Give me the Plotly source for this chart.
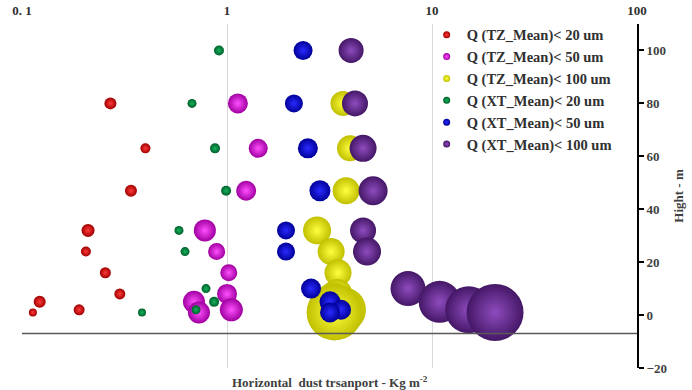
import plotly.graph_objects as go

# ---------------- data ----------------
series_names = [
    "Q (TZ_Mean)< 20 um",
    "Q (TZ_Mean)< 50 um",
    "Q (TZ_Mean)< 100 um",
    "Q (XT_Mean)< 20 um",
    "Q (XT_Mean)< 50 um",
    "Q (XT_Mean)< 100 um",
]

tz_height = [80, 63, 47, 32, 24, 16, 8, 5, 2, 1]
xt_height = [100, 80, 63, 47, 32, 24, 10, 5, 2, 1]

tz20_q = [0.27, 0.40, 0.34, 0.21, 0.205, 0.255, 0.30, 0.122, 0.19, 0.113]
tz50_q = [1.13, 1.42, 1.24, 0.78, 0.89, 1.02, 1.00, 0.69, 1.05, 0.73]
tz100_q = [3.68, 3.98, 3.81, 2.75, 3.22, 3.48, 3.45, 3.30, 3.70, 3.35]
xt20_q = [0.914, 0.675, 0.874, 0.99, 0.583, 0.624, 0.79, 0.865, 0.706, 0.385]
xt50_q = [2.35, 2.12, 2.48, 2.84, 1.94, 1.94, 2.57, 3.18, 3.60, 3.18]
xt100_q = [4.03, 4.21, 4.61, 5.16, 4.61, 4.82, 7.64, 10.9, 15.1, 20.3]

# bubble magnitudes (drawn diameter, px)
tz20_bubble = [12, 10, 12, 13, 10, 11, 11, 12, 11, 8]
tz50_bubble = [20, 19, 20, 22, 17, 17, 20, 22, 23, 22]
tz100_bubble = [25, 26, 27, 28, 27, 27, 30, 38, 45, 56]
xt20_bubble = [10, 9, 10, 10, 9, 9, 9, 10, 9, 8]
xt50_bubble = [19, 18, 20, 21, 18, 18, 20, 21, 20, 20]
xt100_bubble = [25, 26, 27, 29, 26, 28, 35, 42, 47, 57]

x_tickvals = [0.1, 1, 10, 100]
x_ticktext = ["0. 1", "1", "10", "100"]
y_tickvals = [-20, 0, 20, 40, 60, 80, 100]

# ---------------- styling ----------------
edge_colors = ["#A00000", "#A000A0", "#C0C000", "#005E2A", "#000098", "#441766"]
center_colors = ["#FF3A3A", "#FF50FF", "#FFFF40", "#14B45C", "#2A2AFF", "#8E4CBE"]

series = [
    (tz20_q, tz_height, tz20_bubble),
    (tz50_q, tz_height, tz50_bubble),
    (tz100_q, tz_height, tz100_bubble),
    (xt20_q, xt_height, xt20_bubble),
    (xt50_q, xt_height, xt50_bubble),
    (xt100_q, xt_height, xt100_bubble),
]

FONT = "Liberation Serif, Times New Roman, serif"
TXT = "#404040"

fig = go.Figure()
for i, (xs, ys, ss) in enumerate(series):
    fig.add_trace(go.Scatter(
        x=xs, y=ys, mode="markers", showlegend=False,
        marker=dict(size=ss, color=edge_colors[i], line=dict(width=0),
                    gradient=dict(type="radial", color=center_colors[i]),
                    opacity=1),
        hoverinfo="x+y", name=series_names[i],
    ))
for i, nm in enumerate(series_names):
    fig.add_trace(go.Scatter(
        x=[None], y=[None], mode="markers", name=nm,
        marker=dict(size=7, color=edge_colors[i], line=dict(width=0),
                    gradient=dict(type="radial", color=center_colors[i])),
    ))

fig.add_shape(type="line", xref="paper", yref="y", x0=0, x1=1, y0=-7, y1=-7,
              line=dict(color="#595959", width=1.5))

fig.add_annotation(
    text="<b>Horizontal  dust trsanport - Kg m<sup>-2</sup></b>",
    xref="paper", yref="paper", x=0.5, y=0, yshift=-4, yanchor="top",
    showarrow=False, font=dict(family=FONT, size=13, color=TXT),
)

fig.update_layout(
    width=692, height=390,
    margin=dict(l=22, r=55, t=24, b=22),
    paper_bgcolor="white", plot_bgcolor="white",
    font=dict(family=FONT, size=13, color=TXT),
    xaxis=dict(
        type="log", range=[-1, 2], side="top", automargin=False,
        tickvals=x_tickvals, ticktext=x_ticktext, ticks="",
        ticklabelstandoff=5,
        showgrid=True, gridcolor="#D9D9D9", gridwidth=1,
        showline=False, zeroline=False,
        tickfont=dict(family=FONT, size=13, color="#303030", weight="bold"),
    ),
    yaxis=dict(
        range=[-20, 110], side="right", tickvals=y_tickvals, automargin=False,
        ticks="outside", ticklen=5, tickwidth=1.5, tickcolor="black",
        showline=True, linecolor="black", linewidth=2,
        showgrid=False, zeroline=False,
        tickfont=dict(family=FONT, size=13, color=TXT, weight="bold"),
        title=dict(text="<b>Hight - m</b>", standoff=8,
                   font=dict(family=FONT, size=13, color=TXT)),
    ),
    legend=dict(
        x=0.658, y=1.015, xanchor="left", yanchor="top",
        bgcolor="rgba(0,0,0,0)",
        font=dict(family=FONT, size=14.5, color="#303030", weight=600),
        itemwidth=30, tracegroupgap=0,
    ),
)

fig.write_html("out.html", config={"displayModeBar": False},
               post_script="document.body.style.margin='0';document.body.style.padding='0';")
